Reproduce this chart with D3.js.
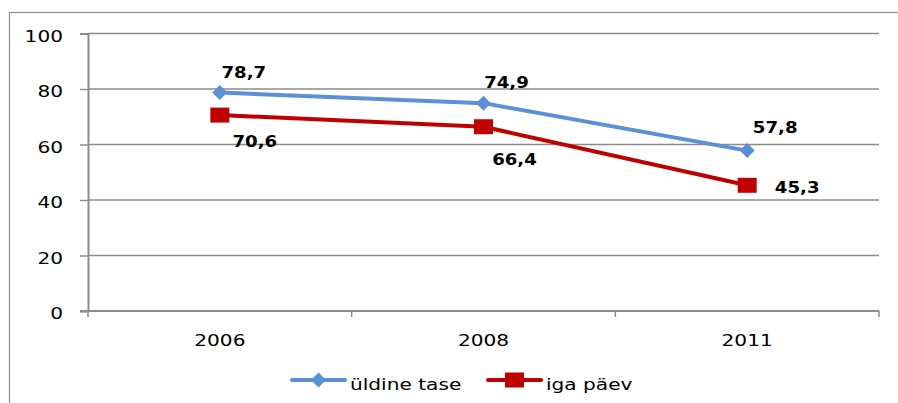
<!DOCTYPE html>
<html>
<head>
<meta charset="utf-8">
<script src="https://cdn.jsdelivr.net/npm/d3@7"></script>
<style>
	body { margin: 0; background: #fff; }
	svg { display: block; }
</style>
</head>
<body>
<div id="chart"></div>
<script>
// chart data
const years = ["2006", "2008", "2011"];
const yTicks = [0, 20, 40, 60, 80, 100];
const seriesNames = ["üldine tase", "iga päev"];
const uldine = [78.7, 74.9, 57.8];
const igaPaev = [70.6, 66.4, 45.3];

const width = 898, height = 403;
const margin = {top: 33.5, right: 19, bottom: 92, left: 88};
const sx = 1.22; // the picture is stretched sideways

const blue = "#5b8fd7", red = "#c00000", grid = "#8c8c8c";
const font = "'DejaVu Sans', Verdana, sans-serif";

let svg = d3.select("#chart").append("svg")
	.attr("width", width)
	.attr("height", height);

// outer chart border
svg.append("rect")
	.attr("x", 9.5).attr("y", 12.5)
	.attr("width", 1000).attr("height", 1000)
	.attr("fill", "none").attr("stroke", grid).attr("stroke-width", 1.2);

let x = d3.scaleBand().domain(years).range([margin.left, width - margin.right]);
let y = d3.scaleLinear().domain([0, 100]).range([height - margin.bottom, margin.top]);

// gridlines
svg.append("g").selectAll("line").data(yTicks.slice(1)).enter().append("line")
	.attr("x1", margin.left).attr("x2", width - margin.right)
	.attr("y1", function(d) {return y(d)}).attr("y2", function(d) {return y(d)})
	.attr("stroke", grid).attr("stroke-width", 1.5);

// y axis
let yAxis = svg.append("g")
	.attr("transform", "translate(" + margin.left + ",0)")
	.call(d3.axisLeft(y).tickValues(yTicks).tickSize(8).tickPadding(0).tickFormat(d3.format("d")));
yAxis.select(".domain").attr("stroke", grid).attr("stroke-width", 2);
yAxis.selectAll(".tick line").attr("stroke", grid).attr("stroke-width", 1.5);
yAxis.selectAll(".tick text").remove();
yAxis.selectAll(".tick").append("text")
	.attr("transform", "translate(-25,7.5) scale(" + sx + ",1)")
	.attr("text-anchor", "end")
	.style("font-family", font).style("font-size", "16.5px").attr("fill", "#000")
	.text(function(d) {return d});

// x axis with ticks between categories
let xAxis = svg.append("g").attr("transform", "translate(0," + y(0) + ")");
xAxis.append("line")
	.attr("x1", margin.left - 8).attr("x2", width - margin.right)
	.attr("stroke", grid).attr("stroke-width", 2);
let bounds = years.map(function(d) {return x(d)}).concat([x.range()[1]]);
xAxis.selectAll(".xtick").data(bounds).enter().append("line")
	.attr("class", "xtick")
	.attr("x1", function(d) {return d}).attr("x2", function(d) {return d})
	.attr("y1", 0).attr("y2", 6)
	.attr("stroke", grid).attr("stroke-width", 1.5);
xAxis.selectAll(".xlabel").data(years).enter().append("text")
	.attr("class", "xlabel")
	.attr("transform", function(d) {return "translate(" + (x(d) + x.bandwidth() / 2) + ",35) scale(" + sx + ",1)"})
	.attr("text-anchor", "middle")
	.style("font-family", font).style("font-size", "16.5px")
	.text(function(d) {return d});

let cx = function(i) {return x(years[i]) + x.bandwidth() / 2};
let line = d3.line()
	.x(function(d, i) {return cx(i)})
	.y(function(d) {return y(d)});

// lines
svg.append("path").datum(uldine)
	.attr("d", line).attr("fill", "none")
	.attr("stroke", blue).attr("stroke-width", 4).attr("stroke-linejoin", "round");
svg.append("path").datum(igaPaev)
	.attr("d", line).attr("fill", "none")
	.attr("stroke", red).attr("stroke-width", 4).attr("stroke-linejoin", "round");

// markers
function diamond(g) {
	g.append("path").attr("d", "M0,-7.5L7.5,0L0,7.5L-7.5,0Z").attr("fill", blue);
}
function square(g) {
	g.append("rect").attr("x", -9.5).attr("y", -7.5).attr("width", 19).attr("height", 15).attr("fill", red);
}
svg.selectAll(".m1").data(uldine).enter().append("g")
	.attr("transform", function(d, i) {return "translate(" + cx(i) + "," + y(d) + ")"})
	.call(diamond);
svg.selectAll(".m2").data(igaPaev).enter().append("g")
	.attr("transform", function(d, i) {return "translate(" + cx(i) + "," + y(d) + ")"})
	.call(square);

// data labels
let fmt = function(d) {return d.toFixed(1).replace(".", ",")};
let off1 = [[24, -15], [23, -15], [28, -18]];
let off2 = [[35, 32], [31, 38], [50, 8]];
function labels(data, off) {
	svg.append("g").selectAll("text").data(data).enter().append("text")
		.attr("transform", function(d, i) {
			return "translate(" + (cx(i) + off[i][0]) + "," + (y(d) + off[i][1]) + ") scale(1.1,1)";
		})
		.attr("text-anchor", "middle")
		.style("font-family", font).style("font-size", "16.5px").style("font-weight", "bold")
		.text(fmt);
}
labels(uldine, off1);
labels(igaPaev, off2);

// legend
let legend = svg.append("g").attr("transform", "translate(292,380)");
let items = [{name: seriesNames[0], color: blue, mark: diamond, x: 0},
	{name: seriesNames[1], color: red, mark: square, x: 196}];
items.forEach(function(it) {
	let g = legend.append("g").attr("transform", "translate(" + it.x + ",0)");
	g.append("line").attr("x1", 0).attr("x2", 53)
		.attr("stroke", it.color).attr("stroke-width", 4).attr("stroke-linecap", "round");
	let m = g.append("g").attr("transform", "translate(26.5,0)");
	it.mark(m);
	g.append("text")
		.attr("transform", "translate(58,10) scale(" + sx + ",1)")
		.style("font-family", font).style("font-size", "16.5px")
		.text(it.name);
});
</script>
</body>
</html>
